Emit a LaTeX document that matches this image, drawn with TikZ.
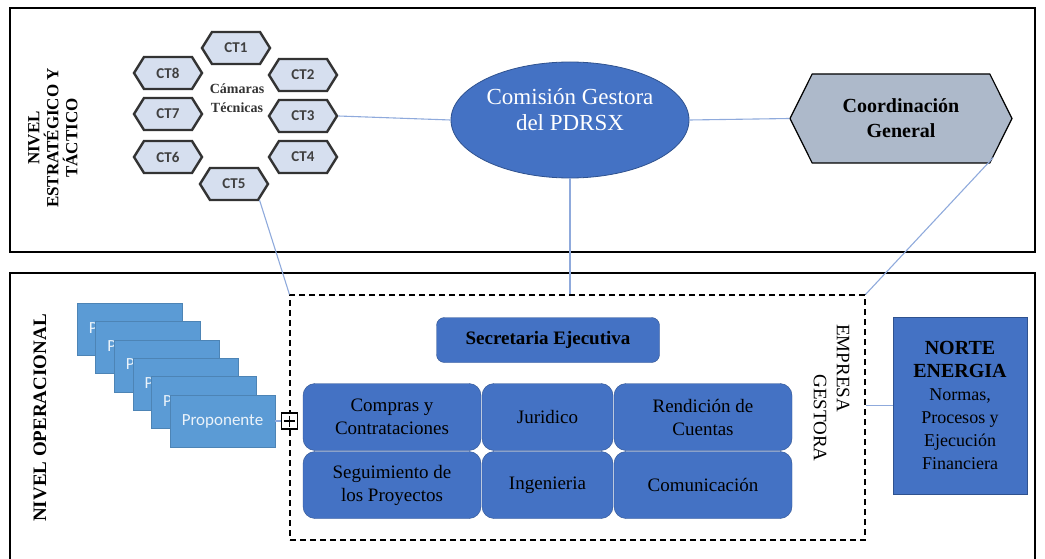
\documentclass[tikz,border=0pt]{standalone}
\usepackage{fontspec}
\setmainfont{Liberation Serif}
\newfontfamily\calibfont{Carlito}
\usetikzlibrary{shapes.geometric}
\usetikzlibrary{shapes.symbols}
\definecolor{ofblue}{HTML}{4472C4}
\definecolor{ofborder}{HTML}{2F528F}
\definecolor{ctfill}{HTML}{D6DFEF}
\definecolor{cgfill}{HTML}{ADB9CA}
\definecolor{propfill}{HTML}{5B9BD5}
\definecolor{linkblue}{HTML}{8FAADC}
\tikzset{
  ctbox/.style={signal, signal to=east and west, signal pointer angle=116, draw=black!80, line width=2.4pt, fill=ctfill, minimum width=68, minimum height=32, inner sep=0pt, text=black!75, font=\calibfont\bfseries\fontsize{15}{15}\selectfont},
  areabox/.style={rounded corners=12pt, draw=ofborder, fill=ofblue, inner sep=2pt, align=center, font=\fontsize{19}{23}\selectfont},
  propbox/.style={rectangle, draw=propfill!85!black, line width=0.4pt, fill=propfill, minimum width=105, minimum height=52, text=white!88!propfill, font=\calibfont\fontsize{17}{17}\selectfont},
  nivel/.style={rotate=90, align=center, font=\bfseries\fontsize{17}{19}\selectfont},
  link/.style={draw=linkblue, line width=1.1pt}
}
\begin{document}
\begin{tikzpicture}[x=1pt, y=-1pt]
\useasboundingbox (0,0) rectangle (1045,559);

% niveles
\draw[line width=1.3pt] (10,8) rectangle (1035,252);
\draw[line width=1.3pt] (10,273) rectangle (1035,575);
\node[nivel] (nivtop) at (53,138) {NIVEL\\ESTRATÉGICO Y\\TÁCTICO};
\node[nivel, font=\bfseries\fontsize{19}{19}\selectfont] (nivop) at (40,418) {NIVEL OPERACIONAL};

% camaras tecnicas
\node[ctbox] (ct1) at (236,48) {CT1};
\node[ctbox] (ct2) at (303,75) {CT2};
\node[ctbox] (ct3) at (303,116) {CT3};
\node[ctbox] (ct4) at (303,157) {CT4};
\node[ctbox] (ct5) at (234,184) {CT5};
\node[ctbox] (ct6) at (168,157) {CT6};
\node[ctbox] (ct7) at (168,114) {CT7};
\node[ctbox] (ct8) at (168,73) {CT8};
\node[align=center, inner sep=0pt, font=\bfseries\fontsize{14}{19}\selectfont, text=black!80] (camaras) at (237,98) {Cámaras\\Técnicas};

\node[ellipse, draw=ofborder, line width=0.8pt, fill=ofblue, minimum width=238, minimum height=116, inner sep=0pt, align=center, text=white, font=\fontsize{23}{26}\selectfont] (comision) at (570,120) {Comisión Gestora\\del PDRSX\\[-6pt]};
\node[signal, signal to=east and west, signal pointer angle=127, draw=black, line width=1.2pt, fill=cgfill, minimum width=222, minimum height=89, inner sep=0pt, align=center, font=\bfseries\fontsize{20}{25}\selectfont] (coord) at (901,118.5) {Coordinación\\General};

% nivel operacional
\node[rectangle, draw, dash pattern=on 6pt off 4pt, line width=1.1pt, minimum width=575, minimum height=245, inner sep=0pt] (gestora) at (577.5,417.5) {};
\node[rotate=-90, align=left, inner sep=0pt, font=\fontsize{19}{23}\selectfont] (empresa) at (831.5,393) {EMPRESA\\\hspace*{50pt}GESTORA};

\node[areabox, rounded corners=8pt, minimum width=223, minimum height=45, font=\bfseries\fontsize{19}{23}\selectfont] (secret) at (548,340) {Secretaria Ejecutiva};
\node[areabox, minimum width=178, minimum height=67] (compras) at (392,417) {Compras y\\Contrataciones};
\node[areabox, minimum width=131, minimum height=67] (juridico) at (547.5,417) {Juridico};
\node[areabox, minimum width=178, minimum height=67] (rendicion) at (703,417) {Rendición de\\Cuentas};
\node[areabox, minimum width=178, minimum height=67] (seguim) at (392,485) {Seguimiento de\\los Proyectos};
\node[areabox, minimum width=131, minimum height=67] (ingen) at (547.5,485) {Ingenieria};
\node[areabox, minimum width=178, minimum height=67] (comunic) at (703,485) {Comunicación};

\node[rectangle, draw=ofborder, line width=0.8pt, fill=ofblue, minimum width=134, minimum height=177, inner sep=0pt, align=center, font=\fontsize{18}{23}\selectfont] (norte) at (960,405.5) {{\bfseries\fontsize{20}{23}\selectfont NORTE}\\{\bfseries\fontsize{20}{23}\selectfont ENERGIA}\\Normas,\\Procesos y\\Ejecución\\Financiera};

\foreach \i in {0,...,5}
  \node[propbox] (prop\i) at (129.5+18.6*\i, 329+18.4*\i) {Proponente};
\node[rectangle, draw, line width=1.2pt, fill=white, minimum size=16, inner sep=0pt,
  path picture={\draw[line width=1.2pt, shorten >=2.5pt, shorten <=2.5pt] (path picture bounding box.north) -- (path picture bounding box.south);
    \draw[line width=1.2pt, shorten >=2.5pt, shorten <=2.5pt] (path picture bounding box.west) -- (path picture bounding box.east);}] (plus) at (gestora.west |- prop5) {};

% conexiones
\draw[link] (ct3.east) -- (comision.west);
\draw[link] (comision.east) -- (coord.west);
\draw[link] (comision.south) -- (comision.south |- gestora.north);
\draw[link] (ct5.-32) -- (gestora.north west);
\draw[link] (coord.-23) -- (gestora.north east);
\draw[link] (norte.west) -- (norte.west -| gestora.east);
\draw[link] (prop5.east) -- (plus.west);
\end{tikzpicture}
\end{document}
